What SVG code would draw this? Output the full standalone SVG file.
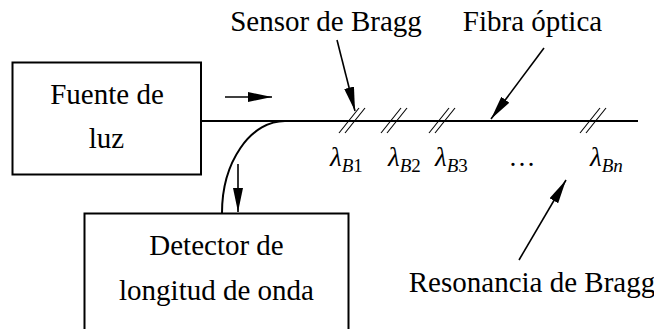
<svg xmlns="http://www.w3.org/2000/svg" width="654" height="329" viewBox="0 0 654 329">
<style>
text{font-family:'Liberation Serif','Times New Roman','DejaVu Serif',serif;font-size:29px;fill:#000}
.lab{text-anchor:middle}
.m{font-size:27px}
.i{font-style:italic}
.s{font-size:19px}
.box{fill:none;stroke:#000;stroke-width:2}
.ln{fill:none;stroke:#000;stroke-width:2}
.ar{fill:none;stroke:#000;stroke-width:1.6}
.g{stroke:#000;stroke-width:1.1}
</style>
<defs>
<marker id="ah" markerUnits="userSpaceOnUse" markerWidth="25" markerHeight="10" refX="24" refY="5" orient="auto" viewBox="0 0 25 10">
<path d="M0,0 L24,5 L0,10 z" fill="#000"/>
</marker>
</defs>
<rect width="654" height="329" fill="#fff"/>
<g font-family="Liberation Serif, DejaVu Serif, serif">
<g id="fuente">
<rect class="box" x="12.5" y="62.5" width="188.5" height="112"/>
<text class="lab" x="107" y="104">Fuente de</text>
<text class="lab" x="106.5" y="148">luz</text>
</g>
<g id="detector">
<path class="box" d="M84.5,340 V213.5 H348.5 V340"/>
<text class="lab" x="216.5" y="255">Detector de</text>
<text class="lab" x="216.5" y="300">longitud de onda</text>
</g>
<g id="fibra">
<line class="ln" x1="201" y1="121" x2="638" y2="121"/>
<text class="lab" x="532.5" y="31">Fibra óptica</text>
</g>
<g id="sensor">
<text class="lab" x="326" y="31">Sensor de Bragg</text>
</g>
<g id="resonancia">
<text class="lab" x="532" y="292">Resonancia de Bragg</text>
</g>
<g id="rejillas">
<line class="g" x1="339" y1="133" x2="359" y2="108"/><line class="g" x1="345" y1="133" x2="365" y2="108"/>
<line class="g" x1="381" y1="133" x2="401" y2="108"/><line class="g" x1="387" y1="133" x2="407" y2="108"/>
<line class="g" x1="429" y1="133" x2="449" y2="108"/><line class="g" x1="435" y1="133" x2="455" y2="108"/>
<line class="g" x1="580" y1="133" x2="600" y2="108"/><line class="g" x1="586" y1="133" x2="606" y2="108"/>
</g>
<g id="lambdas">
<text class="m" x="330" y="166"><tspan class="i">λ</tspan><tspan class="s i" dy="6">B</tspan><tspan class="s">1</tspan></text>
<text class="m" x="388" y="166"><tspan class="i">λ</tspan><tspan class="s i" dy="6">B</tspan><tspan class="s">2</tspan></text>
<text class="m" x="435" y="166"><tspan class="i">λ</tspan><tspan class="s i" dy="6">B</tspan><tspan class="s">3</tspan></text>
<text class="m lab" x="522" y="166">…</text>
<text class="m" x="590" y="166"><tspan class="i">λ</tspan><tspan class="s i" dy="6">Bn</tspan></text>
</g>
</g>
<g id="connectors">
<path class="ln" d="M285,121 A63,92 0 0 0 222,213" stroke-width="1.8"/>
<line class="ar" x1="225" y1="97" x2="272" y2="97" marker-end="url(#ah)"/>
<line class="ar" x1="238" y1="164" x2="238" y2="212" marker-end="url(#ah)"/>
<line class="ar" x1="337" y1="40" x2="355" y2="111" marker-end="url(#ah)"/>
<line class="ar" x1="544" y1="48" x2="491" y2="119" marker-end="url(#ah)"/>
<line class="ar" x1="519" y1="260" x2="566" y2="180" marker-end="url(#ah)"/>
</g>
</svg>
